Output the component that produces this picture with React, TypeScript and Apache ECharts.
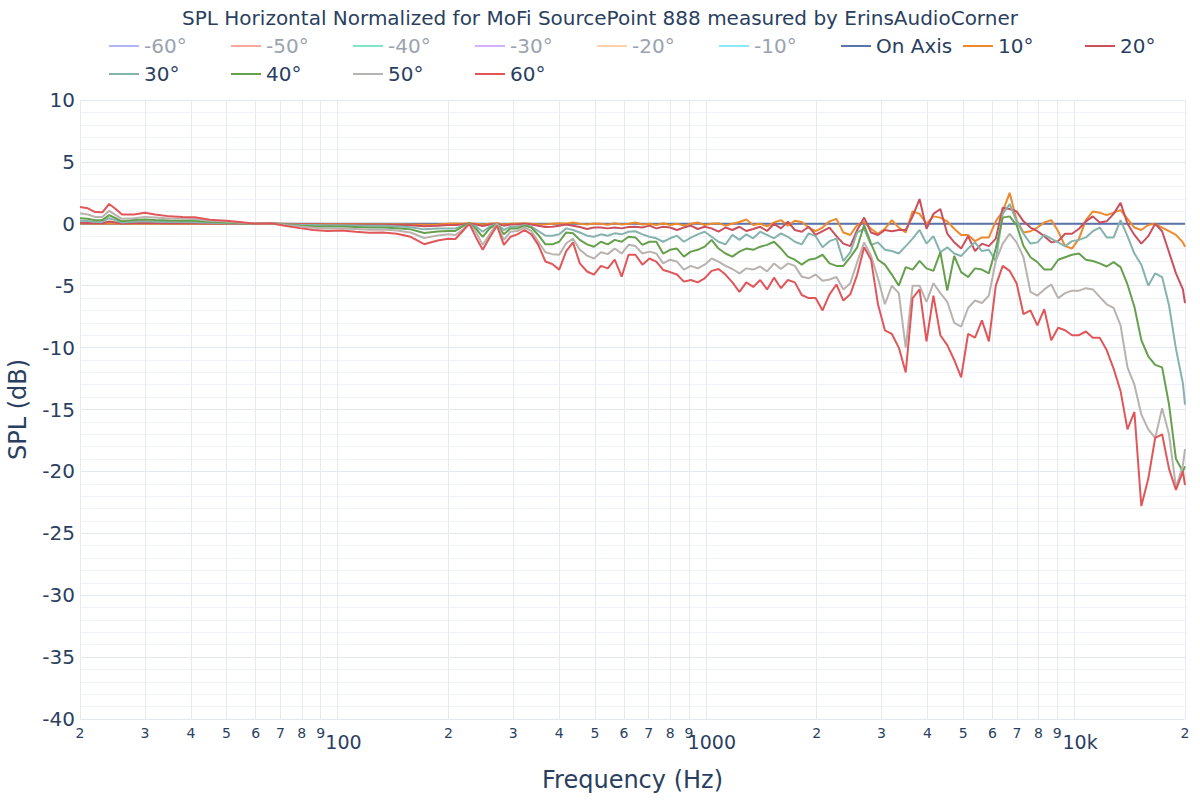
import React, { useEffect, useRef } from 'react';
import * as echarts from 'echarts';

// Frequencies (Hz)
const FREQ = [
  20, 21, 22, 23, 24, 25, 26, 28, 30, 32, 35, 38, 41, 45, 50, 55, 60, 66, 72, 79,
  86, 94, 103, 112, 122, 133, 145, 158, 172, 187,
  200, 209, 218, 228, 238, 248, 259, 271, 283, 295,
  308, 322, 336, 351, 367, 383, 400, 418, 436, 455,
  476, 497, 519, 542, 566, 591, 617, 644, 673, 703,
  734, 766, 800, 835, 872, 911, 951, 993, 1037, 1083,
  1131, 1181, 1234, 1288, 1345, 1405, 1467, 1532, 1600, 1671,
  1745, 1822, 1903, 1987, 2075, 2167, 2263, 2363, 2468, 2577,
  2691, 2810, 2934, 3064, 3200, 3342, 3490, 3644, 3805, 3974,
  4150, 4334, 4525, 4726, 4935, 5153, 5382, 5620, 5869, 6128,
  6400, 6683, 6979, 7288, 7611, 7948, 8299, 8667, 9051, 9451,
  9870, 10307, 10763, 11240, 11737, 12257, 12800, 13367, 13959, 14577,
  15222, 15896, 16599, 17334, 18101, 18903, 19740, 20000,
];

const ON_AXIS = [
  0, 0, 0, 0, 0, 0, 0, 0, 0, 0, 0, 0, 0, 0, 0, 0, 0, 0, 0, 0,
  0, 0, 0, 0, 0, 0, 0, 0, 0, 0,
  0, 0, 0, 0, 0, 0, 0, 0, 0, 0, 0, 0, 0, 0, 0, 0, 0, 0, 0, 0,
  0, 0, 0, 0, 0, 0, 0, 0, 0, 0, 0, 0, 0, 0, 0, 0, 0, 0, 0, 0,
  0, 0, 0, 0, 0, 0, 0, 0, 0, 0, 0, 0, 0, 0, 0, 0, 0, 0, 0, 0,
  0, 0, 0, 0, 0, 0, 0, 0, 0, 0, 0, 0, 0, 0, 0, 0, 0, 0, 0, 0,
  0, 0, 0, 0, 0, 0, 0, 0, 0, 0, 0, 0, 0, 0, 0, 0, 0, 0, 0, 0,
  0, 0, 0, 0, 0, 0, 0, 0,
];

const DEG10 = [
  0.02, 0.02, 0.01, 0.01, 0.05, 0.03, 0.0, 0.01, 0.02, 0.01, 0.01, 0.01, 0.0, 0.0, 0.0, 0.0, 0.0, 0.01, 0.0, -0.01,
  -0.01, -0.02, -0.02, -0.02, -0.03, -0.03, -0.03, -0.05, -0.08, -0.06,
  0.0, 0.02, 0.0, 0.05, 0.0, -0.05, 0.0, 0.05, -0.05, 0.0, 0.03, 0.05, 0.0, -0.03, -0.05, 0.0, 0.05, 0.0, 0.1, 0.0,
  -0.05, 0.02, 0.0, -0.08, 0.05, -0.05, 0.0, 0.1,
  -0.05, 0.0, -0.1, 0.05, -0.1, 0.0, -0.15, 0.0, 0.1, -0.1, 0.0, 0.05, -0.15, 0.0, 0.15, 0.35, -0.1, 0.0, -0.2, 0.1,
  0.3, -0.15, 0.25, 0.15, -0.3, -0.6,
  -0.3, 0.2, 0.4, -0.7, -0.9, -0.1, 0.15, -0.4, -0.8, -0.4, 0.3, -0.3, -0.7, 1.0, 0.8, 0.0, 0.6, 0.5, 0.2, -0.4,
  -0.9, -0.9, -1.4, -1.1, -1.1, 0.2,
  1.0, 2.5, 0.3, -0.7, -0.6, -0.3, 0.1, 0.3, -0.6, -1.8, -2.0, -1.2, 0.3, 1.0, 0.9, 0.7, 0.9, 1.1, 0.4, -0.3,
  -0.5, -0.1, 0.0, -0.3, -0.6, -0.9, -1.5, -1.85,
];

const DEG20 = [
  0.08, 0.07, 0.05, 0.05, 0.18, 0.1, 0.03, 0.06, 0.07, 0.06, 0.05, 0.05, 0.04, 0.03, 0.02, 0.01, 0.0, 0.02, -0.01, -0.03,
  -0.04, -0.05, -0.05, -0.06, -0.07, -0.07, -0.09, -0.12, -0.2, -0.16,
  -0.1, -0.1, -0.05, 0.0, -0.05, -0.18, -0.05, 0.0, -0.15, -0.05, -0.05, 0.0, -0.05, -0.15, -0.26, -0.24, -0.15, -0.05, -0.15, -0.26,
  -0.42, -0.3, -0.3, -0.37, -0.3, -0.37, -0.26, -0.24,
  -0.3, -0.15, -0.37, -0.24, -0.3, -0.5, -0.3, -0.15, -0.42, -0.24, -0.37, -0.64, -0.3, -0.5, -0.24, -0.58, -0.42, -0.24, -0.58, 0.0,
  -0.37, 0.17, -0.5, -0.64, -0.24, -0.9,
  -0.6, -0.3, -1.0, -1.6, -1.8, -0.5, 0.5, -0.7, -0.9, -0.5, -0.6, -0.5, -0.5, 0.6, 2.0, -0.4, 0.8, 1.2, -0.8, -1.5,
  -2.0, -1.0, -2.2, -1.6, -1.8, -1.2,
  1.3, 1.2, 1.0, 0.2, -0.3, -0.6, -1.0, -1.5, -1.4, -0.8, -0.8, -0.4, 0.2, 0.6, 0.1, 0.2, 0.8, 1.7, 0.0, -0.9,
  -1.6, -1.0, 0.0, -0.6, -2.3, -4.0, -5.3, -6.4,
];

const DEG30 = [
  0.25, 0.22, 0.15, 0.15, 0.45, 0.28, 0.1, 0.17, 0.2, 0.17, 0.15, 0.14, 0.13, 0.09, 0.05, 0.03, 0.0, 0.04, -0.03, -0.08,
  -0.1, -0.12, -0.12, -0.14, -0.16, -0.16, -0.2, -0.27, -0.45, -0.37,
  -0.37, -0.37, -0.2, 0.0, -0.23, -0.64, -0.23, 0.0, -0.5, -0.23, -0.23, -0.1, -0.23, -0.58, -0.96, -0.96, -0.85, -0.37, -0.5, -0.7,
  -0.96, -1.05, -0.85, -0.96, -0.77, -0.85, -0.64, -0.6,
  -0.85, -1.05, -1.17, -1.45, -1.17, -0.96, -1.45, -1.12, -0.85, -0.64, -1.05, -1.45, -1.66, -0.9, -1.3, -0.85, -1.17, -0.64, -0.9, -1.17,
  -0.77, -1.05, -1.45, -1.66, -0.77, -1.0,
  -1.9, -1.4, -1.2, -3.0, -2.3, -0.7, -0.4, -1.7, -1.5, -2.1, -2.2, -2.4, -1.8, -1.2, -0.5, -1.6, -1.0, -2.3, -1.9, -2.4,
  -2.6, -2.0, -1.5, -2.2, -2.1, -3.0,
  0.8, 1.6, 0.2, -0.8, -1.6, -1.5, -0.9, -1.2, -1.5, -1.8, -1.4, -1.3, -1.1, -0.6, -0.3, -1.1, -1.1, 0.3, -1.0, -2.4,
  -3.3, -5.0, -4.0, -4.3, -6.6, -10.1, -12.9, -14.6,
];

const DEG40 = [
  0.45, 0.4, 0.28, 0.3, 0.7, 0.45, 0.2, 0.3, 0.35, 0.3, 0.27, 0.25, 0.24, 0.16, 0.1, 0.05, 0.0, 0.05, -0.05, -0.15,
  -0.2, -0.22, -0.22, -0.25, -0.3, -0.3, -0.35, -0.45, -0.75, -0.62,
  -0.58, -0.58, -0.23, 0.06, -0.42, -1.05, -0.37, 0.0, -0.85, -0.37, -0.37, -0.15, -0.3, -0.9, -1.66, -1.66, -1.45, -0.7, -0.77, -1.3,
  -1.66, -1.85, -1.45, -1.66, -1.3, -1.45, -1.05, -1.1,
  -1.7, -1.45, -1.45, -2.4, -2.1, -2.0, -2.65, -2.25, -2.1, -1.85, -1.3, -2.0, -2.4, -2.65, -2.25, -2.0, -2.1, -1.85, -1.7, -1.45,
  -2.0, -2.65, -2.9, -3.3, -2.9, -2.8,
  -2.5, -3.2, -3.4, -3.4, -2.7, -1.9, -0.1, -1.6, -2.9, -3.3, -4.1, -5.0, -3.5, -3.7, -3.0, -3.6, -3.8, -2.3, -5.4, -2.6,
  -3.9, -4.3, -3.6, -3.7, -4.0, -2.0,
  0.5, 0.6, -0.1, -1.8, -2.7, -3.1, -3.7, -3.7, -2.9, -2.7, -2.5, -2.4, -2.9, -3.0, -3.2, -3.45, -3.1, -3.5, -4.9, -6.7,
  -9.4, -10.7, -11.4, -11.6, -14.6, -19.0, -20.0, -19.6,
];

const DEG50 = [
  0.85, 0.75, 0.55, 0.55, 1.05, 0.7, 0.4, 0.45, 0.55, 0.5, 0.42, 0.4, 0.38, 0.25, 0.18, 0.08, 0.0, 0.05, -0.1, -0.22,
  -0.32, -0.38, -0.37, -0.42, -0.48, -0.47, -0.55, -0.7, -1.15, -0.95,
  -0.85, -0.9, -0.5, 0.0, -0.7, -1.7, -0.85, 0.0, -1.3, -0.64, -0.58, -0.3, -0.58, -1.45, -2.3, -2.45, -2.5, -1.57, -1.2, -2.1,
  -2.57, -2.8, -2.3, -2.45, -2.0, -2.4, -1.7, -1.8,
  -2.4, -2.25, -2.4, -3.2, -2.9, -3.05, -3.7, -3.4, -3.6, -3.3, -2.8, -3.05, -3.4, -3.65, -4.0, -3.6, -3.7, -3.45, -3.85, -3.2,
  -3.65, -3.2, -3.4, -4.27, -4.4, -4.1,
  -4.6, -4.5, -4.3, -5.3, -4.8, -3.1, -1.5, -2.6, -4.4, -6.5, -5.0, -5.6, -10.0, -5.0, -5.0, -6.3, -4.8, -5.6, -6.3, -8.0,
  -8.3, -6.8, -6.2, -6.4, -5.8, -3.0,
  -1.6, -0.8, -1.5, -2.7, -5.5, -5.8, -5.3, -4.9, -6.0, -5.6, -5.4, -5.4, -5.2, -5.3, -5.9, -6.5, -6.8, -8.2, -11.6, -13.0,
  -15.4, -16.6, -17.3, -14.9, -17.0, -21.3, -19.5, -18.2,
];

const DEG60 = [
  1.35, 1.25, 0.95, 0.93, 1.6, 1.2, 0.75, 0.75, 0.9, 0.75, 0.6, 0.55, 0.52, 0.33, 0.25, 0.12, 0.0, 0.05, -0.15, -0.35,
  -0.5, -0.58, -0.55, -0.65, -0.72, -0.7, -0.8, -1.05, -1.65, -1.35,
  -1.2, -1.23, -0.64, 0.0, -1.12, -2.1, -1.1, -0.15, -1.7, -1.05, -0.85, -0.5, -0.85, -1.7, -3.05, -3.25, -3.7, -2.2, -1.5, -3.2,
  -3.85, -4.1, -3.4, -3.6, -2.9, -4.27, -2.5, -2.5,
  -3.3, -2.8, -3.05, -3.73, -3.9, -4.1, -4.67, -4.54, -4.73, -4.4, -3.8, -3.65, -4.1, -4.73, -5.5, -4.73, -5.1, -4.54, -5.3, -4.35,
  -5.2, -4.54, -4.73, -5.75, -6.0, -6.0,
  -7.0, -5.7, -4.9, -6.2, -5.7, -4.1, -1.9, -2.9, -6.5, -8.6, -8.9, -10.0, -12.0, -6.0, -5.3, -9.5, -5.8, -9.0, -9.8, -11.0,
  -12.4, -8.9, -9.2, -7.8, -9.5, -5.0,
  -3.4, -3.8, -4.8, -7.3, -7.0, -8.2, -6.9, -9.4, -8.4, -8.6, -9.0, -9.0, -8.7, -9.2, -9.2, -10.2, -11.7, -13.5, -16.6, -15.2,
  -22.8, -20.6, -17.3, -17.0, -19.8, -21.5, -20.0, -21.1,
];

// Series names, colours and data (negative angles are hidden, "legendonly")
const SERIES_NAMES = ['-60°', '-50°', '-40°', '-30°', '-20°', '-10°', 'On Axis', '10°', '20°', '30°', '40°', '50°', '60°'];
const SERIES_COLORS = ['#636efa', '#ef553b', '#00cc96', '#ab63fa', '#ffa15a', '#19d3f3', '#5a73a8', '#ee8a2c', '#c9505c', '#86b3ae', '#66a04d', '#b9b3af', '#e15759'];
const FADED_COLORS = ['#b1b6fc', '#f7aa9d', '#80e5ca', '#d5b1fc', '#ffd0ac', '#8ce9f9'];
const SERIES_DATA = [DEG60, DEG50, DEG40, DEG30, DEG20, DEG10, ON_AXIS, DEG10, DEG20, DEG30, DEG40, DEG50, DEG60];
const HIDDEN = ['-60°', '-50°', '-40°', '-30°', '-20°', '-10°'];
// Legend columns (plotly-like fixed-width entries, 9 per row)
const LEGEND_COLUMNS = [
  ['-60°', '30°'], ['-50°', '40°'], ['-40°', '50°'], ['-30°', '60°'],
  ['-20°'], ['-10°'], ['On Axis'], ['10°'], ['20°'],
];

const X_TICKS_HZ = [20, 30, 40, 50, 60, 70, 80, 90, 100, 200, 300, 400, 500, 600, 700, 800, 900, 1000, 2000, 3000, 4000, 5000, 6000, 7000, 8000, 9000, 10000, 20000];
const X_TICK_LABELS = ['2', '3', '4', '5', '6', '7', '8', '9', '100', '2', '3', '4', '5', '6', '7', '8', '9', '1000', '2', '3', '4', '5', '6', '7', '8', '9', '10k', '2'];
const X_DECADES = ['100', '1000', '10k'];

const FONT = 'DejaVu Sans, Verdana, sans-serif';
const TEXT = '#2a3f5f';

export default function App() {
  const ref = useRef<HTMLDivElement>(null);

  useEffect(() => {
    if (!ref.current) return;
    const chart = echarts.init(ref.current, null, { renderer: 'svg' });
    const tickLogs = X_TICKS_HZ.map((f) => Math.log10(f));

    const series = SERIES_NAMES.map((name, s) => ({
      name,
      type: 'line',
      data: FREQ.map((f, i) => [Math.log10(f), SERIES_DATA[s][i]]),
      symbol: 'none',
      showSymbol: false,
      lineStyle: { color: SERIES_COLORS[s], width: 2 },
      itemStyle: { color: SERIES_COLORS[s] },
      emphasis: { disabled: true },
      z: 2 + s,
    }));

    const legendItem = (name: string) => {
      const idx = SERIES_NAMES.indexOf(name);
      if (idx < HIDDEN.length) {
        return { name, lineStyle: { inactiveColor: FADED_COLORS[idx], inactiveWidth: 2 } };
      }
      return { name };
    };

    const legends = LEGEND_COLUMNS.map((names, c) => {
      const selected: Record<string, boolean> = {};
      names.forEach((n) => { if (HIDDEN.includes(n)) selected[n] = false; });
      return {
        orient: 'vertical',
        left: 108 + 122 * c,
        top: 34,
        padding: 0,
        itemWidth: 30,
        itemHeight: 14,
        itemGap: 4,
        inactiveColor: '#9aa3b0',
        itemStyle: { opacity: 0 },
        textStyle: { fontSize: 20, lineHeight: 24, color: TEXT, fontFamily: FONT },
        selected,
        data: names.map(legendItem),
      };
    });

    chart.setOption({
      animation: false,
      backgroundColor: '#ffffff',
      textStyle: { fontFamily: FONT },
      title: {
        text: 'SPL Horizontal Normalized for MoFi SourcePoint 888 measured by ErinsAudioCorner',
        left: 'center',
        top: 3,
        textStyle: { fontSize: 20, fontWeight: 'normal', color: TEXT, fontFamily: FONT },
      },
      legend: legends,
      grid: { left: 80, right: 15, top: 100, bottom: 81, containLabel: false, outerBoundsMode: 'none' },
      xAxis: {
        type: 'value',
        min: Math.log10(20),
        max: Math.log10(20000),
        name: 'Frequency (Hz)',
        nameLocation: 'middle',
        nameGap: 49,
        nameTextStyle: { fontSize: 24, color: TEXT, fontFamily: FONT },
        axisLine: { show: false },
        axisTick: { show: false, customValues: tickLogs },
        axisLabel: {
          customValues: tickLogs,
          showMinLabel: true,
          showMaxLabel: true,
          hideOverlap: false,
          margin: 6,
          fontSize: 14,
          lineHeight: 15,
          color: TEXT,
          fontFamily: FONT,
          formatter: (v: number) => {
            let best = 0;
            let bestD = Infinity;
            tickLogs.forEach((t, i) => {
              const d = Math.abs(t - v);
              if (d < bestD) { bestD = d; best = i; }
            });
            const s = X_TICK_LABELS[best];
            return X_DECADES.includes(s) ? `{big|${s}}` : s;
          },
          rich: {
            big: { fontSize: 19, lineHeight: 20, color: TEXT, fontFamily: FONT, padding: [14, 0, 0, 12] },
          },
        },
        splitLine: { show: true, lineStyle: { color: '#e6ebf3', width: 1 } },
      },
      yAxis: {
        type: 'value',
        min: -40,
        max: 10,
        interval: 5,
        name: 'SPL (dB)',
        nameLocation: 'middle',
        nameGap: 50,
        nameTextStyle: { fontSize: 24, color: TEXT, fontFamily: FONT },
        axisLine: { show: false },
        axisTick: { show: false },
        axisLabel: { fontSize: 20, color: TEXT, fontFamily: FONT, margin: 5 },
        splitLine: { show: true, lineStyle: { color: '#e4e9f1', width: 1 } },
        minorTick: { show: false, splitNumber: 5 },
        minorSplitLine: { show: true, lineStyle: { color: '#eff2f7', width: 1 } },
      },
      series,
    });

    return () => chart.dispose();
  }, []);

  return (
    <div
      ref={ref}
      style={{ position: 'fixed', left: 0, top: 0, width: 1200, height: 800, background: '#fff' }}
    />
  );
}
